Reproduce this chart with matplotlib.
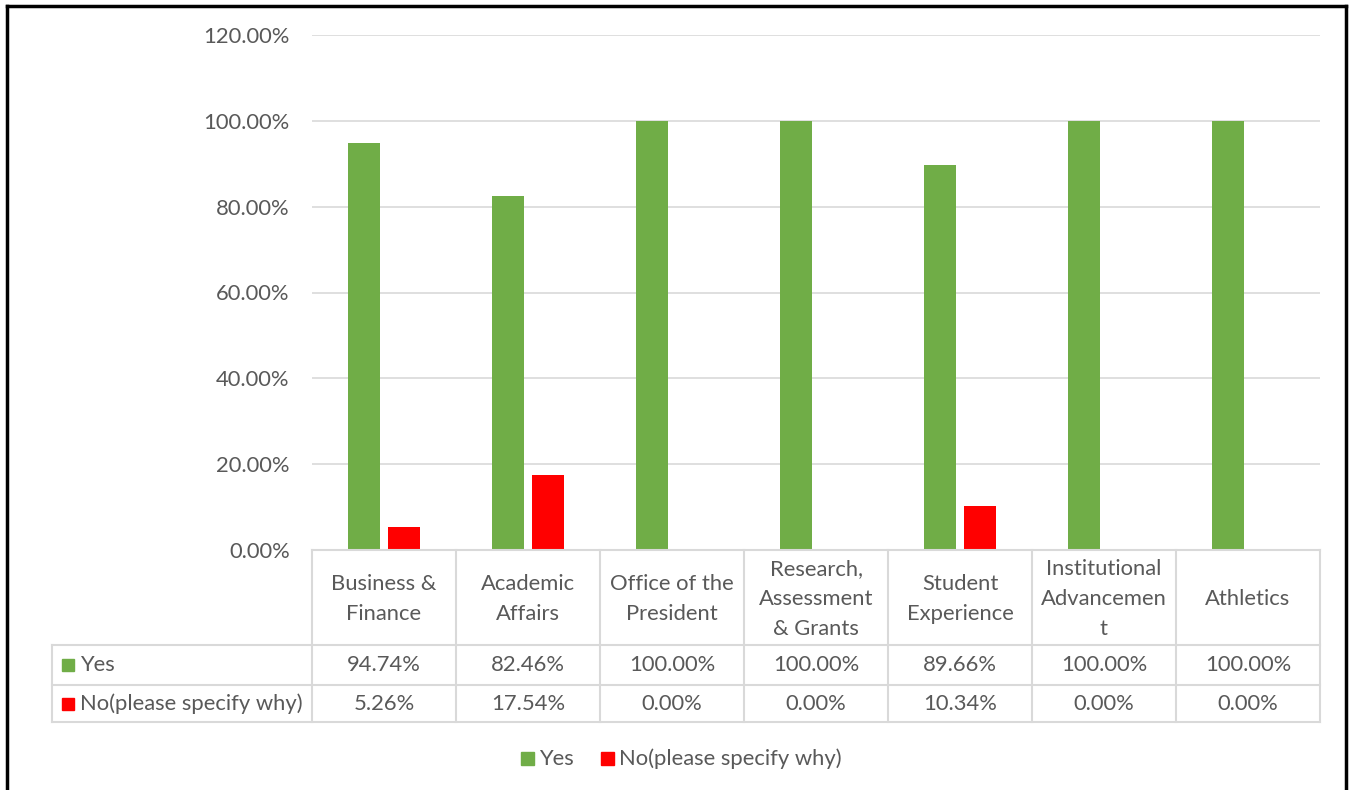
import numpy as np
import matplotlib.pyplot as plt
from matplotlib.lines import Line2D
from matplotlib.patches import Rectangle

categories = ["Business &\nFinance", "Academic\nAffairs", "Office of the\nPresident",
              "Research,\nAssessment\n& Grants", "Student\nExperience",
              "Institutional\nAdvancemen\nt", "Athletics"]
yes = [94.74, 82.46, 100.00, 100.00, 89.66, 100.00, 100.00]
no = [5.26, 17.54, 0.00, 0.00, 10.34, 0.00, 0.00]
series_names = ["Yes", "No(please specify why)"]
yticks = [0, 20, 40, 60, 80, 100, 120]

GREEN = "#70ad47"
RED = "#ff0000"
GRID = "#d9d9d9"
TXT = "#595959"
FS = 15.8

plt.rcParams["font.family"] = ["Lato", "DejaVu Sans"]

W, H = 1354, 790
fig = plt.figure(figsize=(W / 100, H / 100), dpi=100)


def fx(px):
    return px / W


def fy(py):
    return 1 - py / H


# plot area in pixel coordinates
x0, x1, ytop, ybot = 312, 1320, 35, 550
ax = fig.add_axes([fx(x0), fy(ybot), fx(x1 - x0), (ybot - ytop) / H])
ax.set_xlim(-0.5, len(categories) - 0.5)
ax.set_ylim(0, 120)

x = np.arange(len(categories))
bw = 0.222
ax.bar(x - 0.142, yes, width=bw, color=GREEN, zorder=3)
ax.bar(x + 0.142, no, width=bw, color=RED, zorder=3)

ax.set_yticks(yticks)
ax.set_yticklabels([f"{t:.2f}%" for t in yticks], color=TXT, fontsize=FS)
ax.tick_params(axis="y", length=0, pad=16)
ax.set_xticks([])
ax.yaxis.grid(True, color=GRID, linewidth=1.2, zorder=0)
for s in ax.spines.values():
    s.set_visible(False)

# data table under the plot
cell_w = (x1 - x0) / len(categories)
row_y = [550, 645, 685, 722]
left = 52


def hline(y, xa, xb):
    fig.add_artist(Line2D([fx(xa), fx(xb)], [fy(y), fy(y)], color=GRID, lw=1.5))


def vline(x_, ya, yb):
    fig.add_artist(Line2D([fx(x_), fx(x_)], [fy(ya), fy(yb)], color=GRID, lw=1.5))


hline(row_y[0], x0, x1)
for y in row_y[1:]:
    hline(y, left, x1)
vline(left, row_y[1], row_y[3])
for i in range(len(categories) + 1):
    vline(x0 + i * cell_w, row_y[0], row_y[3])

for i, cat in enumerate(categories):
    cx = x0 + (i + 0.5) * cell_w
    fig.text(fx(cx), fy(599), cat, ha="center", va="center", color=TXT,
             fontsize=FS, linespacing=1.62)
    fig.text(fx(cx), fy(665), f"{yes[i]:.2f}%", ha="center", va="center",
             color=TXT, fontsize=FS)
    fig.text(fx(cx), fy(704), f"{no[i]:.2f}%", ha="center", va="center",
             color=TXT, fontsize=FS)

for name, col, cy in [(series_names[0], GREEN, 665), (series_names[1], RED, 704)]:
    fig.add_artist(Rectangle((fx(62), fy(cy + 6)), fx(12), 12 / H,
                             color=col, transform=fig.transFigure))
    fig.text(fx(80), fy(cy), name, ha="left", va="center", color=TXT, fontsize=FS)

# legend below the table
for name, col, lx in [(series_names[0], GREEN, 521), (series_names[1], RED, 601)]:
    fig.add_artist(Rectangle((fx(lx), fy(765)), fx(13), 13 / H,
                             color=col, transform=fig.transFigure))
    fig.text(fx(lx + 18), fy(759), name, ha="left", va="center", color=TXT, fontsize=FS)

# outer frame
for xs, ys in [([7, 7], [6, 790]), ([7, 1346], [6, 6]), ([1346, 1346], [6, 790])]:
    fig.add_artist(Line2D([fx(v) for v in xs], [fy(v) for v in ys], color="black", lw=2.5))

fig.savefig("out.png", dpi=100)
